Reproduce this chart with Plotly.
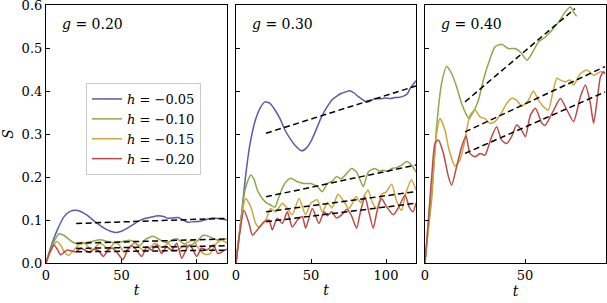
import plotly.graph_objects as go

# ---------------- data ----------------
panel_titles = ["g = 0.20", "g = 0.30", "g = 0.40"]
series_names = ["h = −0.05", "h = −0.10", "h = −0.15", "h = −0.20"]
x_ticks = [0, 50, 100]
y_ticks = [0.0, 0.1, 0.2, 0.3, 0.4, 0.5, 0.6]

# panel 1 (g = 0.20)
p1_blue_t = [0, 3, 7.5, 12, 16, 19.6, 23, 27, 34, 40.6, 46, 50, 54, 58, 61.6, 66, 70, 74.4, 78, 81, 84, 87.6, 91, 94, 98, 103, 107, 111, 115, 120]
p1_blue_s = [0, 0.035, 0.077, 0.108, 0.12, 0.123, 0.12, 0.112, 0.092, 0.077, 0.071, 0.074, 0.081, 0.09, 0.098, 0.104, 0.107, 0.11, 0.108, 0.104, 0.105, 0.106, 0.1, 0.095, 0.096, 0.098, 0.102, 0.105, 0.103, 0.1]
p1_green_t = [0, 4, 8.6, 12, 17, 21, 25, 30, 36, 41, 46, 51, 55.6, 59, 62, 66, 71, 75, 80, 83, 86.6, 90, 95, 100, 104, 108, 111, 115, 120]
p1_green_s = [0, 0.04, 0.068, 0.064, 0.05, 0.044, 0.046, 0.05, 0.054, 0.05, 0.047, 0.05, 0.053, 0.048, 0.04, 0.055, 0.062, 0.055, 0.047, 0.052, 0.057, 0.048, 0.04, 0.05, 0.064, 0.062, 0.057, 0.052, 0.057]
p1_yellow_t = [0, 3.5, 7, 10, 12, 15, 19.7, 24, 27, 29.6, 32, 35, 38, 40.7, 43, 46, 49, 51.7, 54, 57, 59, 62, 66, 69, 72.3, 76.7, 79, 81, 85.4, 89.8, 93, 97.7, 100, 103, 106, 108.8, 111, 113, 116.5, 120]
p1_yellow_s = [0, 0.03, 0.05, 0.04, 0.026, 0.018, 0.035, 0.048, 0.042, 0.03, 0.034, 0.045, 0.042, 0.032, 0.038, 0.048, 0.04, 0.025, 0.032, 0.043, 0.046, 0.036, 0.028, 0.035, 0.046, 0.036, 0.04, 0.046, 0.03, 0.036, 0.046, 0.053, 0.04, 0.026, 0.02, 0.022, 0.035, 0.046, 0.053, 0.046]
p1_red_t = [0, 2.5, 5.3, 7.5, 9.7, 12, 14, 17, 19.7, 23, 26, 29, 32, 35, 38, 41, 44, 47, 51, 54, 57, 60, 63.5, 66.8, 70, 73.4, 76.7, 80, 83.3, 86.7, 90, 93.4, 95.5, 100, 103, 106.6, 111, 114, 118.5, 120]
p1_red_s = [0, 0.025, 0.042, 0.032, 0.019, 0.025, 0.03, 0.028, 0.026, 0.034, 0.03, 0.025, 0.032, 0.028, 0.015, 0.03, 0.035, 0.025, 0.008, 0.03, 0.04, 0.03, 0.015, 0.038, 0.03, 0.042, 0.022, 0.038, 0.03, 0.046, 0.011, 0.035, 0.042, 0.015, 0.035, 0.03, 0.042, 0.022, 0.03, 0.032]
p1_fit_t = [20, 120]
p1_fit_blue = [0.092, 0.104]
p1_fit_green = [0.046, 0.056]
p1_fit_yellow = [0.034, 0.040]
p1_fit_red = [0.026, 0.030]

# panel 2 (g = 0.30)
p2_blue_t = [0, 3, 6, 9, 12.7, 16, 19.3, 22.5, 26, 29.5, 32.7, 36, 39.3, 43.8, 47, 50.4, 54, 57, 60.5, 63.8, 67, 70.4, 73, 76, 79, 81.6, 84.5, 87, 90, 92.7, 96, 99.3, 103, 106, 109.5, 112.7, 114.5, 116, 118, 120]
p2_blue_s = [0, 0.09, 0.19, 0.27, 0.33, 0.36, 0.375, 0.372, 0.356, 0.335, 0.309, 0.29, 0.274, 0.261, 0.268, 0.286, 0.315, 0.34, 0.362, 0.379, 0.388, 0.395, 0.398, 0.401, 0.395, 0.387, 0.38, 0.374, 0.378, 0.383, 0.382, 0.384, 0.383, 0.385, 0.386, 0.39, 0.395, 0.406, 0.415, 0.424]
p2_green_t = [0, 3, 6, 9.8, 12, 14.2, 17.5, 20.4, 23, 26, 28, 30.4, 32.5, 36.4, 40.9, 45.3, 49.8, 54.2, 57.5, 61, 64, 67, 70, 73, 77, 80.4, 82.5, 84.9, 88.2, 92.7, 95.5, 98.2, 101, 103.8, 107, 110.4, 113.8, 117, 120]
p2_green_s = [0, 0.09, 0.17, 0.205, 0.195, 0.17, 0.15, 0.14, 0.135, 0.13, 0.148, 0.17, 0.185, 0.197, 0.189, 0.185, 0.185, 0.178, 0.166, 0.185, 0.19, 0.201, 0.196, 0.205, 0.22, 0.212, 0.195, 0.178, 0.212, 0.22, 0.214, 0.216, 0.213, 0.22, 0.222, 0.228, 0.236, 0.228, 0.212]
p2_yellow_t = [0, 3, 6.4, 9.8, 13.1, 15.3, 19.8, 23.1, 26.4, 30.9, 34, 37.5, 42, 46.4, 49.8, 54.2, 57.5, 61, 64, 68, 72.7, 75, 77, 80, 83, 86, 88, 91, 94, 97, 100, 103.8, 107, 110.4, 113, 117, 120]
p2_yellow_s = [0, 0.09, 0.15, 0.131, 0.092, 0.083, 0.1, 0.127, 0.119, 0.139, 0.128, 0.112, 0.15, 0.112, 0.139, 0.147, 0.119, 0.14, 0.128, 0.16, 0.139, 0.126, 0.135, 0.155, 0.141, 0.16, 0.17, 0.14, 0.127, 0.16, 0.165, 0.183, 0.145, 0.122, 0.16, 0.193, 0.17]
p2_red_t = [0, 2.5, 5.3, 8.7, 10.9, 14.2, 18.7, 22, 24.2, 27.5, 30.9, 34.2, 37.5, 41, 44.2, 46.4, 50.9, 55.3, 58.7, 61, 63.8, 67, 70.4, 74, 77, 80.4, 83, 86, 88.5, 91.5, 94, 97, 100.4, 104.9, 108.5, 112.7, 115.5, 118, 120]
p2_red_s = [0, 0.07, 0.123, 0.092, 0.065, 0.077, 0.096, 0.1, 0.077, 0.104, 0.092, 0.119, 0.084, 0.1, 0.108, 0.081, 0.127, 0.092, 0.119, 0.11, 0.119, 0.105, 0.112, 0.125, 0.11, 0.081, 0.12, 0.154, 0.12, 0.081, 0.12, 0.15, 0.131, 0.112, 0.13, 0.158, 0.13, 0.119, 0.14]
p2_fit_t = [20, 120]
p2_fit_blue = [0.302, 0.412]
p2_fit_green = [0.154, 0.228]
p2_fit_yellow = [0.119, 0.166]
p2_fit_red = [0.096, 0.139]

# panel 3 (g = 0.40)
p3_green_t = [0, 1.5, 3.3, 5.8, 8.3, 10.8, 13.3, 15.8, 18.3, 20.8, 22, 24.2, 26.7, 29.2, 31.7, 35, 38.3, 41.7, 45, 47.7, 51, 53.5, 56.8, 60.2, 63.5, 66.8, 70.2, 72.7, 74.2, 75.8]
p3_green_s = [0, 0.07, 0.147, 0.317, 0.418, 0.457, 0.441, 0.41, 0.371, 0.344, 0.336, 0.352, 0.379, 0.426, 0.464, 0.503, 0.509, 0.499, 0.499, 0.491, 0.472, 0.488, 0.515, 0.526, 0.542, 0.561, 0.585, 0.596, 0.585, 0.574]
p3_yellow_t = [0, 2, 4, 5.8, 7.5, 10, 11.7, 14.2, 15, 17.5, 20, 22.5, 25, 27.5, 30, 32.5, 35, 37.5, 40.8, 43.3, 45.8, 48.3, 51.7, 54.2, 56.7, 59.2, 61.7, 64.3, 66, 68, 70.2, 72.5, 74.3, 77.7, 81, 84.3, 87.7, 90]
p3_yellow_s = [0, 0.1, 0.2, 0.30, 0.336, 0.309, 0.27, 0.232, 0.225, 0.24, 0.286, 0.344, 0.356, 0.34, 0.336, 0.325, 0.329, 0.344, 0.371, 0.383, 0.379, 0.365, 0.379, 0.4, 0.379, 0.364, 0.356, 0.406, 0.43, 0.425, 0.422, 0.426, 0.414, 0.441, 0.449, 0.437, 0.445, 0.442]
p3_red_t = [0, 2, 3.5, 5, 6.7, 9.2, 11.7, 13.3, 15.8, 18.3, 20.5, 22.5, 25, 27.5, 30, 33, 35.8, 38.3, 40.8, 43.3, 45.8, 48.3, 50.2, 52.7, 55.2, 58.5, 60, 63.5, 67.7, 71, 74.3, 77.7, 80.2, 82.7, 84.3, 86.5, 87.7, 89.3, 90]
p3_red_s = [0, 0.12, 0.21, 0.278, 0.286, 0.255, 0.201, 0.181, 0.224, 0.27, 0.296, 0.255, 0.247, 0.255, 0.251, 0.29, 0.317, 0.286, 0.278, 0.294, 0.321, 0.309, 0.294, 0.344, 0.36, 0.325, 0.32, 0.348, 0.383, 0.356, 0.329, 0.387, 0.414, 0.371, 0.325, 0.395, 0.433, 0.445, 0.44]
p3_fit_green_t = [20, 75]
p3_fit_green = [0.375, 0.592]
p3_fit_t = [20, 90]
p3_fit_yellow = [0.305, 0.457]
p3_fit_red = [0.255, 0.398]

colors = ["#5b5bab", "#8aaa4c", "#cda83c", "#bb4a4a"]

# ---------------- figure ----------------
FONT = "DejaVu Serif"
fig = go.Figure()

def add_line(t, s, ci, axis, show=False):
    fig.add_trace(go.Scatter(
        x=t, y=s, mode="lines", line=dict(color=colors[ci], width=1.5, shape="spline", smoothing=0.6),
        name="<i>h</i> = " + series_names[ci].split("= ")[1], showlegend=show, legendrank=ci,
        xaxis="x" + axis, yaxis="y" + axis))

def add_fit(t, s, axis):
    fig.add_trace(go.Scatter(
        x=t, y=s, mode="lines", line=dict(color="black", width=1.5, dash="6px,3.5px"),
        showlegend=False, xaxis="x" + axis, yaxis="y" + axis))

add_line(p1_blue_t, p1_blue_s, 0, "", True)
add_line(p1_green_t, p1_green_s, 1, "", True)
add_line(p1_yellow_t, p1_yellow_s, 2, "", True)
add_line(p1_red_t, p1_red_s, 3, "", True)
for f in [p1_fit_blue, p1_fit_green, p1_fit_yellow, p1_fit_red]:
    add_fit(p1_fit_t, f, "")

add_line(p2_blue_t, p2_blue_s, 0, "2")
add_line(p2_green_t, p2_green_s, 1, "2")
add_line(p2_yellow_t, p2_yellow_s, 2, "2")
add_line(p2_red_t, p2_red_s, 3, "2")
for f in [p2_fit_blue, p2_fit_green, p2_fit_yellow, p2_fit_red]:
    add_fit(p2_fit_t, f, "2")

add_line(p3_green_t, p3_green_s, 1, "3")
add_line(p3_yellow_t, p3_yellow_s, 2, "3")
add_line(p3_red_t, p3_red_s, 3, "3")
add_fit(p3_fit_green_t, p3_fit_green, "3")
add_fit(p3_fit_t, p3_fit_yellow, "3")
add_fit(p3_fit_t, p3_fit_red, "3")

L, R, T, B = 46, 1, 5, 40
W, H = 607, 303
pw = W - L - R
doms = [(46, 227), (236, 416), (425, 606)]
doms = [((a - L) / pw, (b - L) / pw) for a, b in doms]
xranges = [[0, 120], [0, 120], [0, 90.5]]

axstyle = dict(showline=True, linecolor="black", linewidth=1.2, mirror=True, ticks="inside",
               ticklen=4, tickcolor="black", showgrid=False, zeroline=False, automargin=False,
               ticklabeloverflow="allow",
               tickfont=dict(family=FONT, size=13, color="black"))
layout = dict(width=W, height=H, margin=dict(l=L, r=R, t=T, b=B, autoexpand=False),
              plot_bgcolor="white", paper_bgcolor="white",
              font=dict(family=FONT, size=13, color="black"))
for i in range(3):
    sfx = "" if i == 0 else str(i + 1)
    layout["xaxis" + sfx] = dict(axstyle, domain=list(doms[i]), range=xranges[i], tickvals=x_ticks,
                                 anchor="y" + sfx,
                                 title=dict(text="<i>t</i>", standoff=3, font=dict(family=FONT, size=14)))
    layout["yaxis" + sfx] = dict(axstyle, domain=[0, 1], range=[0, 0.6004], tickvals=y_ticks,
                                 ticktext=[f"{v:.1f}" for v in y_ticks], anchor="x" + sfx,
                                 showticklabels=(i == 0))
layout["yaxis"]["title"] = dict(text="<i>S</i>", standoff=4, font=dict(family=FONT, size=14))
fig.update_layout(**layout)

for i in range(3):
    sfx = "" if i == 0 else str(i + 1)
    g, v = panel_titles[i].split(" = ")
    fig.add_annotation(xref="x" + sfx + " domain", yref="y" + sfx + " domain", x=0.08, y=0.925,
                       xanchor="left", yanchor="middle", showarrow=False,
                       text=f"<i>{g}</i> = {v}", font=dict(family=FONT, size=14, color="black"))

fig.update_layout(legend=dict(x=(86 - L) / pw, y=(263 - 83) / 258, xanchor="left", yanchor="top",
                              bgcolor="white", bordercolor="#cccccc", borderwidth=1,
                              font=dict(family=FONT, size=13, color="black"),
                              itemwidth=30, tracegroupgap=0))

fig.write_html("out.html", config={"displayModeBar": False},
               post_script="document.body.style.margin='0px';document.body.style.padding='0px';")
